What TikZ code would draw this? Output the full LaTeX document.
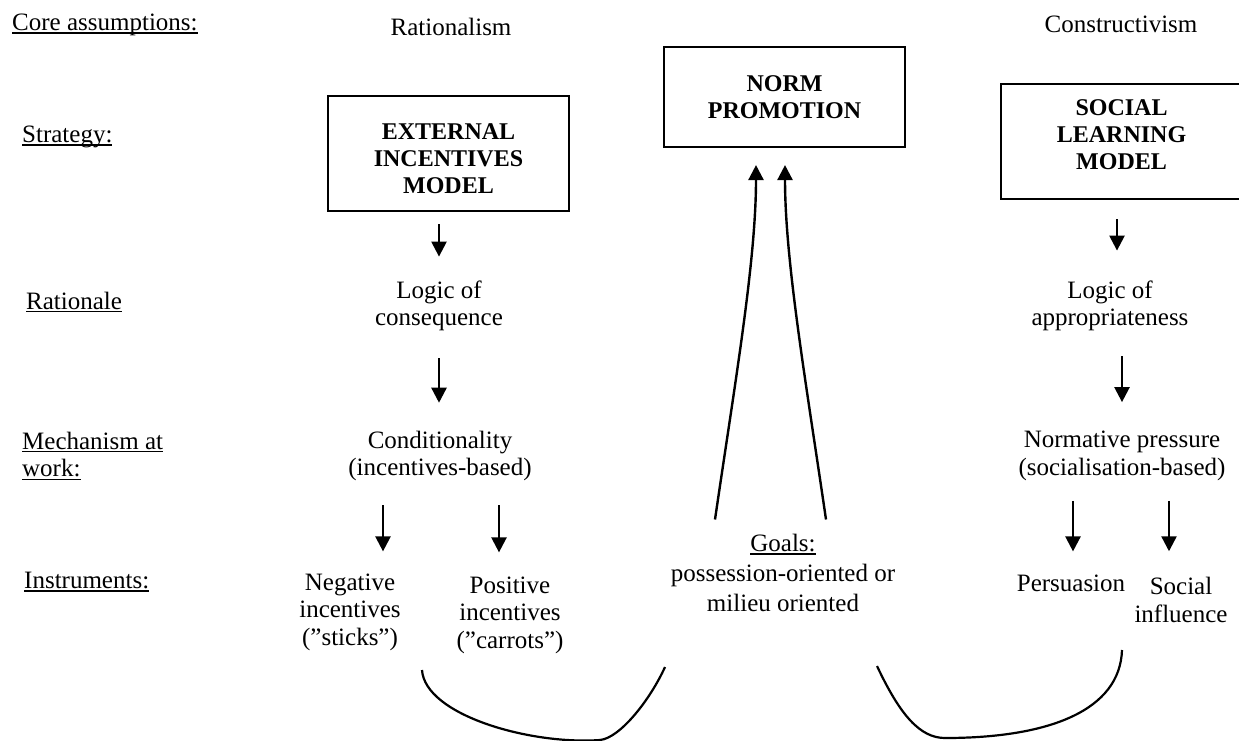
\documentclass[tikz,border=0pt]{standalone}
\usepackage{fontspec}
\setmainfont{Liberation Serif}
\usepackage{tikz}
\usetikzlibrary{arrows.meta, positioning}
\newcommand{\undl}[1]{\setbox0=\hbox{#1}\rlap{\rule[-3pt]{\wd0}{1.3pt}}\box0}

\begin{document}
\begin{tikzpicture}[x=1pt, y=-1pt,
        txt/.style={inner sep=0pt, align=center, font=\fontsize{25}{27.5}\selectfont},
        head/.style={inner sep=0pt, anchor=west, align=left, font=\fontsize{25}{27.5}\selectfont},
        box/.style={draw, line width=2.1pt, minimum width=241pt, inner sep=0pt},
        boxtxt/.style={inner sep=0pt, align=center, font=\fontsize{24}{27}\selectfont\bfseries},
        arr/.style={-{Triangle[width=15pt, length=15pt]}, line width=2.4pt},
        curve/.style={line width=2.2pt}
    ]
        \useasboundingbox (0,0) rectangle (1239,740);

        % row headings
        \node (core) [head] at (12,25) {\undl{Core assumptions:}};
        \node (strat) [head] at (22,137) {\undl{Strategy:}};
        \node (ratl) [head] at (26,302) {\undl{Rationale}};
        \node (mech) [head] at (22,456) {\undl{Mechanism at}\\\undl{work:}};
        \node (instr) [head] at (24,582) {\undl{Instruments:}};

        \node (rat) [txt] at (451,27) {Rationalism};
        \node (con) [txt] at (1121,24) {Constructivism};

        % boxes
        \node (eim) [box, minimum height=115pt] at (448.5,153.5) {};
        \node (eimtxt) [boxtxt] at ([yshift=-5pt]eim.center) {EXTERNAL\\INCENTIVES\\MODEL};
        \node (norm) [box, minimum height=100pt] at (784.5,97) {};
        \node (normtxt) [boxtxt] at (norm.center) {NORM\\PROMOTION};
        \node (slm) [box, minimum height=115pt] at (1121.5,141.5) {};
        \node (slmtxt) [boxtxt] at ([yshift=7pt]slm.center) {SOCIAL\\LEARNING\\MODEL};

        % left column
        \node (lcons) [txt] at (439,306) {Logic of\\consequence};
        \node (cond) [txt] at (440,456) {Conditionality\\(incentives-based)};
        \node (neg) [txt] at (350,612) {Negative\\incentives\\(”sticks”)};
        \node (pos) [txt] at (510,615) {Positive\\incentives\\(”carrots”)};

        % right column
        \node (lapp) [txt] at (1110,306) {Logic of\\appropriateness};
        \node (norp) [txt] at (1122,456) {Normative pressure\\(socialisation-based)};
        \node (pers) [txt] at (1071,583) {Persuasion};
        \node (soc) [txt] at (1181,600) {Social\\influence};

        % middle
        \node (goals) [txt, font=\fontsize{25}{30}\selectfont] at (783,573) {\undl{Goals:}\\possession-oriented or\\milieu oriented};

        \draw [arr, shorten <=12pt, shorten >=24pt] (eim.south -| lcons.north) -- (lcons.north);
        \draw [arr, shorten <=27pt, shorten >=28pt] (lcons.south) -- (lcons.south |- cond.north);
        \draw [arr, shorten <=24pt, shorten >=22pt] ([xshift=-57pt]cond.south) -- ([xshift=33pt]neg.north);
        \draw [arr, shorten <=24pt, shorten >=24pt] ([xshift=59pt]cond.south) -- ([xshift=-11pt]pos.north);

        \draw [arr, shorten <=19pt, shorten >=30pt] (slm.south -| 1117,0) -- (lapp.north -| 1117,0);
        \draw [arr, shorten <=25pt, shorten >=29pt] (lapp.south -| norp.north) -- (norp.north);
        \draw [arr, shorten <=20pt, shorten >=23pt] ([xshift=-49pt]norp.south) -- ([xshift=2pt]pers.north);
        \draw [arr, shorten <=20pt, shorten >=26pt] ([xshift=47pt]norp.south) -- ([xshift=-12pt]soc.north);

        \draw [arr] ([xshift=-68pt, yshift=14.5pt]goals.north) .. controls +(20,-137) and +(0,96) .. ([xshift=-28.5pt, yshift=-17pt]norm.south);
        \draw [arr] ([xshift=43pt, yshift=14.5pt]goals.north) .. controls +(-20,-137) and +(0,96) .. ([xshift=0.5pt, yshift=-17pt]norm.south);

        % brackets at the bottom
        \coordinate (ul) at (422,670);
        \coordinate (ur) at (665,667);
        \coordinate (vl) at (877,666);
        \coordinate (vr) at (1122,650);
        \draw [curve] (ul) .. controls (425,715) and (530,745) .. (600,740) .. controls (620,738) and (650,700) .. (ur);
        \draw [curve] (vl) .. controls (900,715) and (920,738) .. (945,738) .. controls (1050,738) and (1120,710) .. (vr);
    \end{tikzpicture}
\end{document}
